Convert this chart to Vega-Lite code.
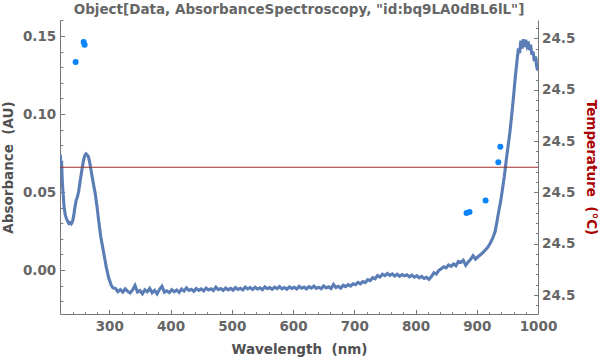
{
  "$schema": "https://vega.github.io/schema/vega-lite/v6.json",
  "width": 478,
  "height": 294,
  "autosize": "none",
  "padding": {"left": 60, "top": 20, "right": 62, "bottom": 44},
  "background": "white",
  "title": {
    "text": "Object[Data, AbsorbanceSpectroscopy, \"id:bq9LA0dBL6lL\"]",
    "font": "DejaVu Sans",
    "fontSize": 13.5,
    "fontWeight": "bold",
    "color": "#666666",
    "anchor": "middle",
    "frame": "group",
    "offset": -3
  },
  "config": {
    "view": {"stroke": null},
    "axis": {
      "labelFont": "DejaVu Sans",
      "labelFontSize": 13.5,
      "labelFontWeight": "bold",
      "labelColor": "#666666",
      "titleFont": "DejaVu Sans",
      "titleFontSize": 13.5,
      "titleFontWeight": "bold",
      "titleColor": "#505050",
      "domainColor": "#777777",
      "tickColor": "#777777",
      "grid": false,
      "labelFlush": false,
      "labelOverlap": false,
      "labelSeparation": -60
    }
  },
  "datasets": {
    "spectrum": [
      {"wl": 220, "abs": 0.0740}, {"wl": 221, "abs": 0.0660}, {"wl": 222, "abs": 0.0700}, {"wl": 223, "abs": 0.0590},
      {"wl": 224, "abs": 0.0520}, {"wl": 225, "abs": 0.0470}, {"wl": 226, "abs": 0.0410}, {"wl": 228, "abs": 0.0355},
      {"wl": 230, "abs": 0.0330}, {"wl": 232, "abs": 0.0312}, {"wl": 234, "abs": 0.0298}, {"wl": 236, "abs": 0.0303},
      {"wl": 238, "abs": 0.0296}, {"wl": 240, "abs": 0.0312}, {"wl": 242, "abs": 0.0350}, {"wl": 244, "abs": 0.0405},
      {"wl": 246, "abs": 0.0448}, {"wl": 248, "abs": 0.0470}, {"wl": 250, "abs": 0.0505}, {"wl": 252, "abs": 0.0560},
      {"wl": 254, "abs": 0.0610}, {"wl": 256, "abs": 0.0660}, {"wl": 258, "abs": 0.0705}, {"wl": 260, "abs": 0.0735},
      {"wl": 262, "abs": 0.0745}, {"wl": 264, "abs": 0.0738}, {"wl": 266, "abs": 0.0725}, {"wl": 268, "abs": 0.0690},
      {"wl": 270, "abs": 0.0645}, {"wl": 273, "abs": 0.0575}, {"wl": 277, "abs": 0.0490}, {"wl": 280, "abs": 0.0405},
      {"wl": 283, "abs": 0.0305}, {"wl": 286, "abs": 0.0215}, {"wl": 289, "abs": 0.0150}, {"wl": 292, "abs": 0.0085},
      {"wl": 295, "abs": 0.0020}, {"wl": 299, "abs": -0.0050}, {"wl": 303, "abs": -0.0096}, {"wl": 306, "abs": -0.0115},
      {"wl": 310, "abs": -0.0118}, {"wl": 314, "abs": -0.0139}, {"wl": 318, "abs": -0.0126}, {"wl": 322, "abs": -0.0142},
      {"wl": 326, "abs": -0.0121}, {"wl": 330, "abs": -0.0137}, {"wl": 334, "abs": -0.0147}, {"wl": 338, "abs": -0.0128},
      {"wl": 342, "abs": -0.0099}, {"wl": 346, "abs": -0.0141}, {"wl": 350, "abs": -0.0132}, {"wl": 354, "abs": -0.0152},
      {"wl": 358, "abs": -0.0127}, {"wl": 362, "abs": -0.0140}, {"wl": 366, "abs": -0.0118}, {"wl": 370, "abs": -0.0146},
      {"wl": 374, "abs": -0.0131}, {"wl": 378, "abs": -0.0153}, {"wl": 382, "abs": -0.0124}, {"wl": 386, "abs": -0.0104},
      {"wl": 390, "abs": -0.0142}, {"wl": 394, "abs": -0.0133}, {"wl": 398, "abs": -0.0145}, {"wl": 402, "abs": -0.0126},
      {"wl": 406, "abs": -0.0139}, {"wl": 410, "abs": -0.0128}, {"wl": 414, "abs": -0.0143}, {"wl": 418, "abs": -0.0122},
      {"wl": 422, "abs": -0.0135}, {"wl": 426, "abs": -0.0114}, {"wl": 430, "abs": -0.0131}, {"wl": 434, "abs": -0.0124},
      {"wl": 438, "abs": -0.0137}, {"wl": 442, "abs": -0.0119}, {"wl": 446, "abs": -0.0130}, {"wl": 450, "abs": -0.0121},
      {"wl": 454, "abs": -0.0134}, {"wl": 458, "abs": -0.0116}, {"wl": 462, "abs": -0.0128}, {"wl": 466, "abs": -0.0120},
      {"wl": 470, "abs": -0.0132}, {"wl": 474, "abs": -0.0110}, {"wl": 478, "abs": -0.0126}, {"wl": 482, "abs": -0.0119},
      {"wl": 486, "abs": -0.0131}, {"wl": 490, "abs": -0.0115}, {"wl": 494, "abs": -0.0127}, {"wl": 498, "abs": -0.0118},
      {"wl": 502, "abs": -0.0129}, {"wl": 506, "abs": -0.0112}, {"wl": 510, "abs": -0.0124}, {"wl": 514, "abs": -0.0117},
      {"wl": 518, "abs": -0.0128}, {"wl": 522, "abs": -0.0109}, {"wl": 526, "abs": -0.0121}, {"wl": 530, "abs": -0.0113},
      {"wl": 534, "abs": -0.0125}, {"wl": 538, "abs": -0.0111}, {"wl": 542, "abs": -0.0122}, {"wl": 546, "abs": -0.0114},
      {"wl": 550, "abs": -0.0126}, {"wl": 554, "abs": -0.0108}, {"wl": 558, "abs": -0.0120}, {"wl": 562, "abs": -0.0113},
      {"wl": 566, "abs": -0.0124}, {"wl": 570, "abs": -0.0110}, {"wl": 574, "abs": -0.0119}, {"wl": 578, "abs": -0.0106},
      {"wl": 582, "abs": -0.0121}, {"wl": 586, "abs": -0.0112}, {"wl": 590, "abs": -0.0123}, {"wl": 594, "abs": -0.0108},
      {"wl": 598, "abs": -0.0118}, {"wl": 602, "abs": -0.0111}, {"wl": 606, "abs": -0.0122}, {"wl": 610, "abs": -0.0105},
      {"wl": 614, "abs": -0.0117}, {"wl": 618, "abs": -0.0109}, {"wl": 622, "abs": -0.0121}, {"wl": 626, "abs": -0.0107},
      {"wl": 630, "abs": -0.0116}, {"wl": 634, "abs": -0.0103}, {"wl": 638, "abs": -0.0118}, {"wl": 642, "abs": -0.0110},
      {"wl": 646, "abs": -0.0120}, {"wl": 650, "abs": -0.0102}, {"wl": 654, "abs": -0.0115}, {"wl": 658, "abs": -0.0108},
      {"wl": 662, "abs": -0.0119}, {"wl": 666, "abs": -0.0093}, {"wl": 670, "abs": -0.0112}, {"wl": 674, "abs": -0.0105},
      {"wl": 678, "abs": -0.0116}, {"wl": 682, "abs": -0.0098}, {"wl": 686, "abs": -0.0107}, {"wl": 690, "abs": -0.0094},
      {"wl": 694, "abs": -0.0103}, {"wl": 698, "abs": -0.0088}, {"wl": 702, "abs": -0.0094}, {"wl": 706, "abs": -0.0080},
      {"wl": 710, "abs": -0.0089}, {"wl": 714, "abs": -0.0074}, {"wl": 718, "abs": -0.0081}, {"wl": 722, "abs": -0.0062},
      {"wl": 726, "abs": -0.0068}, {"wl": 730, "abs": -0.0049}, {"wl": 734, "abs": -0.0056}, {"wl": 738, "abs": -0.0036},
      {"wl": 742, "abs": -0.0045}, {"wl": 746, "abs": -0.0027}, {"wl": 750, "abs": -0.0036}, {"wl": 754, "abs": -0.0022},
      {"wl": 758, "abs": -0.0034}, {"wl": 762, "abs": -0.0025}, {"wl": 766, "abs": -0.0038}, {"wl": 770, "abs": -0.0027},
      {"wl": 774, "abs": -0.0040}, {"wl": 778, "abs": -0.0029}, {"wl": 782, "abs": -0.0037}, {"wl": 786, "abs": -0.0031},
      {"wl": 790, "abs": -0.0044}, {"wl": 794, "abs": -0.0033}, {"wl": 798, "abs": -0.0046}, {"wl": 802, "abs": -0.0036},
      {"wl": 806, "abs": -0.0050}, {"wl": 810, "abs": -0.0041}, {"wl": 814, "abs": -0.0054}, {"wl": 818, "abs": -0.0047},
      {"wl": 822, "abs": -0.0060}, {"wl": 826, "abs": -0.0042}, {"wl": 830, "abs": -0.0018}, {"wl": 834, "abs": -0.0026},
      {"wl": 838, "abs": -0.0002}, {"wl": 842, "abs": 0.0008}, {"wl": 846, "abs": 0.0021}, {"wl": 850, "abs": 0.0014},
      {"wl": 854, "abs": 0.0033}, {"wl": 858, "abs": 0.0024}, {"wl": 862, "abs": 0.0038}, {"wl": 866, "abs": 0.0027},
      {"wl": 870, "abs": 0.0055}, {"wl": 874, "abs": 0.0048}, {"wl": 878, "abs": 0.0062}, {"wl": 882, "abs": 0.0030},
      {"wl": 886, "abs": 0.0052}, {"wl": 890, "abs": 0.0069}, {"wl": 894, "abs": 0.0092}, {"wl": 898, "abs": 0.0070},
      {"wl": 902, "abs": 0.0085}, {"wl": 906, "abs": 0.0098}, {"wl": 910, "abs": 0.0112}, {"wl": 914, "abs": 0.0128},
      {"wl": 918, "abs": 0.0146}, {"wl": 922, "abs": 0.0172}, {"wl": 926, "abs": 0.0204}, {"wl": 930, "abs": 0.0247},
      {"wl": 933, "abs": 0.0310}, {"wl": 936, "abs": 0.0378}, {"wl": 939, "abs": 0.0440}, {"wl": 942, "abs": 0.0520},
      {"wl": 945, "abs": 0.0600}, {"wl": 948, "abs": 0.0700}, {"wl": 951, "abs": 0.0790}, {"wl": 954, "abs": 0.0880},
      {"wl": 957, "abs": 0.0990}, {"wl": 960, "abs": 0.1110}, {"wl": 963, "abs": 0.1240}, {"wl": 966, "abs": 0.1350},
      {"wl": 968, "abs": 0.1420}, {"wl": 970, "abs": 0.1390}, {"wl": 972, "abs": 0.1470}, {"wl": 974, "abs": 0.1420},
      {"wl": 976, "abs": 0.1480}, {"wl": 978, "abs": 0.1430}, {"wl": 980, "abs": 0.1475}, {"wl": 982, "abs": 0.1440},
      {"wl": 984, "abs": 0.1465}, {"wl": 986, "abs": 0.1410}, {"wl": 988, "abs": 0.1445}, {"wl": 990, "abs": 0.1380},
      {"wl": 992, "abs": 0.1400}, {"wl": 994, "abs": 0.1340}, {"wl": 996, "abs": 0.1370}, {"wl": 998, "abs": 0.1300},
      {"wl": 1000, "abs": 0.1280}
    ],
    "temperature": [
      {"wl": 245.0, "temp": 24.50254}, {"wl": 258.1, "temp": 24.50293}, {"wl": 259.7, "temp": 24.50288},
      {"wl": 883.3, "temp": 24.49960}, {"wl": 888.2, "temp": 24.49962}, {"wl": 914.4, "temp": 24.49984},
      {"wl": 935.2, "temp": 24.50059}, {"wl": 938.5, "temp": 24.50089}, {"wl": 1000, "temp": 24.50345}
    ],
    "reference": [{"temp": 24.50049}]
  },
  "layer": [
    {
      "data": {"name": "spectrum"},
      "mark": {"type": "line", "color": "#5A7DB5", "strokeWidth": 3.1, "clip": true, "interpolate": "linear"},
      "encoding": {
        "x": {
          "field": "wl", "type": "quantitative",
          "scale": {"domain": [219.5, 1000], "nice": false, "zero": false},
          "axis": {
            "title": "Wavelength\u00a0 (nm)",
            "orient": "bottom",
            "values": [240,260,280,300,320,340,360,380,400,420,440,460,480,500,520,540,560,580,600,620,640,660,680,700,720,740,760,780,800,820,840,860,880,900,920,940,960,980,1000],
            "tickCount": 500,
            "labelExpr": "datum.value % 100 == 0 ? format(datum.value, 'd') : ''",
            "labelOverlap": false,
            "tickSize": {"condition": {"test": "datum.value % 100 == 0", "value": -4.5}, "value": -2.3},
            "labelPadding": 9.5,
            "titlePadding": 8
          }
        },
        "y": {
          "field": "abs", "type": "quantitative",
          "scale": {"domain": [-0.0282, 0.1603], "nice": false, "zero": false},
          "axis": {
            "title": "Absorbance\u00a0 (AU)",
            "orient": "left",
            "values": [-0.02,-0.01,0,0.01,0.02,0.03,0.04,0.05,0.06,0.07,0.08,0.09,0.1,0.11,0.12,0.13,0.14,0.15,0.16],
            "tickCount": 500,
            "labelExpr": "abs(datum.value/0.05 - round(datum.value/0.05)) < 0.001 ? format(datum.value, '.2f') : ''",
            "labelOverlap": false,
            "tickSize": {"condition": {"test": "abs(datum.value/0.05 - round(datum.value/0.05)) < 0.001", "value": -4.7}, "value": -2.8},
            "labelPadding": 9,
            "titlePadding": 7
          }
        }
      }
    },
    {
      "layer": [
        {
          "data": {"name": "temperature"},
          "mark": {"type": "circle", "color": "#0A84FA", "size": 36, "opacity": 1, "clip": true},
          "encoding": {
            "x": {"field": "wl", "type": "quantitative"},
            "y": {
              "field": "temp", "type": "quantitative",
              "scale": {"domain": [24.49763, 24.50336], "nice": false, "zero": false},
              "axis": {
                "title": "Temperature\u00a0 (\u00b0C)",
                "titleColor": "#AA0000",
                "orient": "right",
                "values": [24.4978,24.498,24.4982,24.4984,24.4986,24.4988,24.499,24.4992,24.4994,24.4996,24.4998,24.5,24.5002,24.5004,24.5006,24.5008,24.501,24.5012,24.5014,24.5016,24.5018,24.502,24.5022,24.5024,24.5026,24.5028,24.503,24.5032],
                "tickCount": 500,
                "labelExpr": "round(datum.value*10000) % 10 == 0 ? format(datum.value, '.1f') : ''",
                "labelOverlap": false,
                "tickSize": {"condition": {"test": "round(datum.value*10000) % 10 == 0", "value": -4.5}, "value": -2.6},
                "labelPadding": 8,
                "titlePadding": 9
              }
            }
          }
        },
        {
          "data": {"name": "reference"},
          "mark": {"type": "rule", "color": "#A03030", "strokeWidth": 1},
          "encoding": {
            "y": {"field": "temp", "type": "quantitative"}
          }
        }
      ]
    }
  ],
  "resolve": {"scale": {"y": "independent"}}
}
